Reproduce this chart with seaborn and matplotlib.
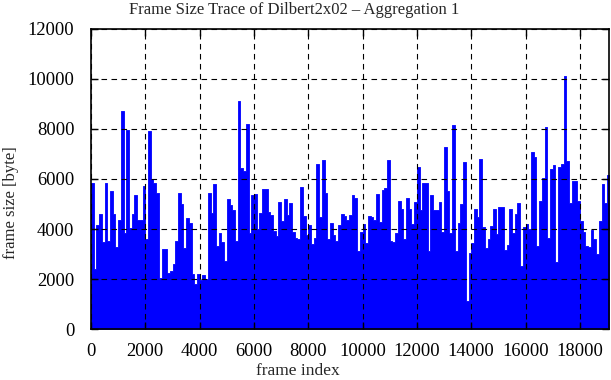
import numpy as np
import pandas as pd
import matplotlib
matplotlib.use("Agg")
import matplotlib.pyplot as plt
import seaborn as sns

# 帧大小轨迹：每 100 帧一个区间的峰值 (byte)
bin_width = 100
n_frames = 19080

peak_0 = [5830, 2400, 4150, 4590, 3480, 5850, 3520, 5500, 4590, 3300,
          4350, 8700, 3860, 7950, 4060, 4590, 5360, 4360, 4360, 5720,
          3620, 7900, 5990, 5850, 5450, 2060, 3190]
peak_27 = [3190, 2260, 2330, 2590, 3520, 5430, 4990, 3260, 4430, 4260,
           2190, 1800, 2190, 1970, 2150, 2000, 5430, 4630, 5810, 3330,
           3860, 3480, 2730, 5190, 4950, 4750, 3520, 9100]
peak_55 = [6450, 6320, 8180, 3860, 5350, 5390, 3990, 4660, 5590, 5590,
           4700, 4560, 3920, 3720, 5090, 4320, 5210, 4550, 5050, 3880,
           3630, 3590, 5680, 4520, 3760, 4160, 3390, 3630]
peak_83 = [6580, 4500, 6760, 5430, 3590, 4230, 3750, 3520, 4150, 4590,
           4520, 4350, 4560, 5350, 5230, 3130, 3880, 4190, 3430, 4520,
           4480, 4350, 5390, 4280, 5540, 5650, 6740]
peak_110 = [3520, 3480, 3830, 5120, 4790, 3590, 5230, 4790, 4220, 5080,
            6480, 4760, 5850, 5830, 3130, 5350, 4760, 4760, 5080, 3880,
            7290, 5520, 3860, 8140, 3130, 4230, 4990, 6680]
peak_138 = [1130, 3060, 3460, 4790, 4480, 6780, 4080, 3260, 3590, 4120,
            4790, 3800, 4880, 4880, 3160, 3350, 4790, 3860, 4590, 5030,
            2530, 4080, 4220, 4020, 7060, 6880, 3330]
peak_165 = [5110, 6030, 8090, 3660, 6380, 6540, 2690, 6480, 6580, 10110,
            6700, 5050, 5900, 5900, 5110, 4310, 3880, 3330, 3300, 3960,
            3590, 3020, 4310, 5790, 5050, 6140]

peaks = peak_0 + peak_27 + peak_55 + peak_83 + peak_110 + peak_138 + peak_165
frame_start = [i * bin_width for i in range(len(peaks))]
edges = frame_start + [n_frames]

df = pd.DataFrame({'frame': frame_start, 'size': peaks})

sns.set_theme(style="ticks")
plt.rcParams['font.family'] = ['Liberation Serif', 'DejaVu Serif']

fig, ax = plt.subplots(figsize=(6.11, 3.80), dpi=100)
fig.subplots_adjust(left=0.149, right=0.997, top=0.924, bottom=0.134)

sns.histplot(data=df, x='frame', weights='size', bins=edges,
             element='step', fill=True, color='#0000ff', alpha=1,
             linewidth=0.6, edgecolor='#0000ff', ax=ax)

ax.set_xlim(0, n_frames)
ax.set_ylim(0, 12000)
ax.set_xticks(range(0, 19000, 2000))
ax.set_yticks(range(0, 12001, 2000))

ax.set_axisbelow(False)
ax.grid(True, color='black', linestyle=(0, (5, 4)), linewidth=0.8)
ax.tick_params(direction='in', top=True, right=True, length=5, width=1,
               labelsize=13.3, colors='black')
ax.tick_params(axis='x', pad=10)
ax.tick_params(axis='y', pad=12)
for s in ax.spines.values():
    s.set_color('black')
    s.set_linewidth(1.2)

fig.suptitle('Frame Size Trace of Dilbert2x02 – Aggregation 1',
             x=0.482, y=0.995, va='top', fontsize=12)
ax.set_xlabel('frame index', fontsize=12.5)
ax.xaxis.set_label_coords(0.40, -0.112)
ax.set_ylabel('frame size [byte]', fontsize=12)
ax.yaxis.set_label_coords(-0.14, 0.42)

plt.savefig('out.png', dpi=100)
plt.close()
